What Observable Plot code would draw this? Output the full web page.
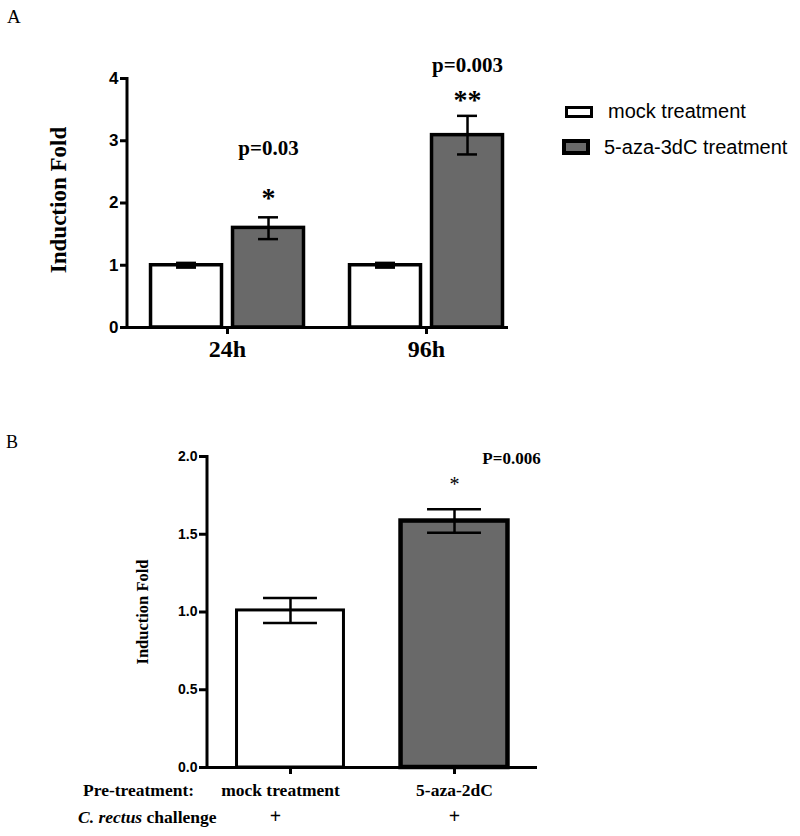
<!DOCTYPE html>
<html><head><meta charset="utf-8">
<script src="https://cdn.jsdelivr.net/npm/d3@7"></script>
<script src="https://cdn.jsdelivr.net/npm/@observablehq/plot@0.6"></script>
<style>
body{margin:0;background:#fff;}
#root{position:relative;width:800px;height:836px;overflow:hidden;font-family:"Liberation Serif","Times New Roman",serif;color:#000;}
.abs{position:absolute;white-space:nowrap;}
#root svg{position:absolute;left:0;}
</style></head><body><div id="root"></div>
<script>
// ---------- Panel A data ----------
const aTimes = ["24h", "96h"];
const aTreatments = ["mock treatment", "5-aza-3dC treatment"];
const aMockMean = [1.00, 1.00];
const aMockLo = [0.97, 0.97];
const aMockHi = [1.03, 1.03];
const aAzaMean = [1.60, 3.09];
const aAzaLo = [1.42, 2.78];
const aAzaHi = [1.77, 3.40];
const aPvalues = ["p=0.03", "p=0.003"];
const aPY = [2.88, 4.22];
const aStars = ["*", "**"];
const aStarY = [2.08, 3.66];
const aYTicks = [0, 1, 2, 3, 4];
const aYLabel = "Induction Fold";

// ---------- Panel B data ----------
const bCats = ["mock treatment", "5-aza-2dC"];
const bMean = [1.01, 1.585];
const bLo = [0.93, 1.51];
const bHi = [1.09, 1.66];
const bAnnotCat = ["5-aza-2dC"];
const bAnnotP = ["P=0.006"];
const bAnnotPY = [1.99];
const bAnnotStar = ["*"];
const bAnnotStarY = [1.82];
const bYTicks = [0, 0.5, 1.0, 1.5, 2.0];
const bRow2 = ["+", "+"];
const bYLabel = "Induction Fold";
const bRowHeads = ["Pre-treatment:", "challenge"];

const serif = "'Liberation Serif','Times New Roman',serif";
const sans = "'Liberation Sans',Arial,sans-serif";
const GRAY = "#696969";

const root = document.getElementById("root");

// ---------- Panel A ----------
const aMock = aTimes.map((t, i) => ({time: t, mean: aMockMean[i], lo: aMockLo[i], hi: aMockHi[i]}));
const aAza = aTimes.map((t, i) => ({time: t, mean: aAzaMean[i], lo: aAzaLo[i], hi: aAzaHi[i],
  p: aPvalues[i], py: aPY[i], star: aStars[i], sy: aStarY[i]}));

const A = {ml: 127, mt: 78};
const chartA = Plot.plot({
  width: 800, height: 380,
  marginLeft: A.ml, marginRight: 292, marginTop: A.mt, marginBottom: 53,
  style: {background: "transparent", overflow: "visible"},
  x: {domain: aTimes, paddingInner: 0.176, paddingOuter: 0.0453, align: 1, round: false},
  y: {domain: [0, 4]},
  marks: [
    Plot.barY(aMock, {x: "time", y: "mean", fill: "white", stroke: "black", strokeWidth: 3.5, insetLeft: 5.5, insetRight: 87.5}),
    Plot.barY(aAza, {x: "time", y: "mean", fill: GRAY, stroke: "black", strokeWidth: 3.5, insetLeft: 87.5, insetRight: 5.5}),
    Plot.ruleX(aMock, {x: "time", y1: "lo", y2: "hi", dx: -41, strokeWidth: 3}),
    Plot.tickY(aMock, {x: "time", y: "lo", insetLeft: 31, insetRight: 113, strokeWidth: 3.5}),
    Plot.tickY(aMock, {x: "time", y: "hi", insetLeft: 31, insetRight: 113, strokeWidth: 3.5}),
    Plot.ruleX(aAza, {x: "time", y1: "lo", y2: "hi", dx: 41, strokeWidth: 2.5}),
    Plot.tickY(aAza, {x: "time", y: "lo", insetLeft: 113, insetRight: 31, strokeWidth: 2.5}),
    Plot.tickY(aAza, {x: "time", y: "hi", insetLeft: 113, insetRight: 31, strokeWidth: 2.5}),
    Plot.ruleY([0], {strokeWidth: 3}),
    Plot.axisY({ticks: aYTicks, tickFormat: d3.format("d"), tickSize: 7, tickPadding: 2, strokeWidth: 3, fontSize: 17, fontWeight: "bold", fontFamily: sans, label: null}),
    Plot.axisX({tickSize: 7, tickPadding: 5, strokeWidth: 3, fontSize: 24, fontWeight: "bold", fontFamily: serif, label: null}),
    Plot.text(aAza, {x: "time", y: "sy", text: "star", dx: 41, fontSize: 28, fontWeight: "bold", fontFamily: serif}),
    Plot.text(aAza, {x: "time", y: "py", text: "p", dx: 41, fontSize: 21, fontWeight: "bold", fontFamily: serif}),
    Plot.text([aYLabel], {frameAnchor: "left", textAnchor: "middle", lineAnchor: "middle", text: d => d, rotate: -90, dx: -69, dy: -3, fontSize: 23, fontWeight: "bold", fontFamily: serif})
  ]
});
chartA.style.top = "0px";
{
  const y = chartA.scale("y");
  d3.select(chartA).append("line")
    .attr("x1", A.ml).attr("x2", A.ml)
    .attr("y1", y.apply(aYTicks[aYTicks.length - 1]) - 1).attr("y2", y.apply(0) + 1.5)
    .attr("stroke", "black").attr("stroke-width", 3);
}
root.appendChild(chartA);

// Legend (panel A)
const legendPos = [{x: 565, y: 106, w: 28, h: 12, bw: 3, tx: 608, ty: 111},
                   {x: 562, y: 139, w: 28, h: 16, bw: 4, tx: 604, ty: 147}];
const legendFill = ["white", GRAY];
aTreatments.forEach((name, i) => {
  const p = legendPos[i];
  const box = document.createElement("div");
  box.className = "abs";
  Object.assign(box.style, {left: p.x + "px", top: p.y + "px", width: p.w + "px", height: p.h + "px",
    boxSizing: "border-box", border: p.bw + "px solid black", background: legendFill[i]});
  root.appendChild(box);
  const t = document.createElement("div");
  t.className = "abs";
  t.textContent = name;
  Object.assign(t.style, {left: p.tx + "px", top: (p.ty - 12) + "px", lineHeight: "24px",
    fontFamily: sans, fontSize: "20px"});
  root.appendChild(t);
});

// ---------- Panel B ----------
const bData = bCats.map((c, i) => ({cat: c, mean: bMean[i], lo: bLo[i], hi: bHi[i], plus: bRow2[i]}));
const bAnnot = bAnnotCat.map((c, i) => ({cat: c, p: bAnnotP[i], py: bAnnotPY[i], star: bAnnotStar[i], sy: bAnnotStarY[i]}));

const B = {top: 420, ml: 207};
const lblB = {frameAnchor: "bottom", lineAnchor: "middle", textAnchor: "middle", fontWeight: "bold", fontFamily: serif};
const chartB = Plot.plot({
  width: 800, height: 416,
  marginLeft: B.ml, marginRight: 263, marginTop: 36, marginBottom: 69,
  style: {background: "transparent", overflow: "visible"},
  x: {domain: bCats, paddingInner: 0.348, paddingOuter: 0.18, round: false},
  y: {domain: [0, 2]},
  marks: [
    Plot.barY(bData, {filter: (d, i) => i === 0, x: "cat", y: "mean", fill: "white", stroke: "black", strokeWidth: 3}),
    Plot.barY(bData, {filter: (d, i) => i === 1, x: "cat", y: "mean", fill: GRAY, stroke: "black", strokeWidth: 4.5}),
    Plot.ruleX(bData, {x: "cat", y1: "lo", y2: "hi", strokeWidth: 2.5}),
    Plot.tickY(bData, {x: "cat", y: "lo", insetLeft: 26.5, insetRight: 26.5, strokeWidth: 2.5}),
    Plot.tickY(bData, {x: "cat", y: "hi", insetLeft: 26.5, insetRight: 26.5, strokeWidth: 2.5}),
    Plot.ruleY([0], {strokeWidth: 3}),
    Plot.axisY({ticks: bYTicks, tickFormat: d3.format(".1f"), tickSize: 8, tickPadding: 2, strokeWidth: 3, fontSize: 14, fontWeight: "bold", fontFamily: sans, label: null}),
    Plot.axisX({tickSize: 7, strokeWidth: 3, tickFormat: () => "", label: null}),
    Plot.text(bData, {...lblB, filter: (d, i) => i === 0, x: "cat", text: "cat", dy: 23, dx: -10, fontSize: 17.5}),
    Plot.text(bData, {...lblB, filter: (d, i) => i === 1, x: "cat", text: "cat", dy: 23, fontSize: 17.5}),
    Plot.text(bData, {...lblB, filter: (d, i) => i === 0, x: "cat", text: "plus", dy: 49, dx: -15, fontSize: 20}),
    Plot.text(bData, {...lblB, filter: (d, i) => i === 1, x: "cat", text: "plus", dy: 49, fontSize: 20}),
    Plot.text(bAnnot, {x: "cat", y: "py", text: "p", dx: 57, fontSize: 17, fontWeight: "bold", fontFamily: serif}),
    Plot.text(bAnnot, {x: "cat", y: "sy", text: "star", fontSize: 20, fontFamily: serif}),
    Plot.text([bYLabel], {frameAnchor: "left", textAnchor: "middle", lineAnchor: "middle", text: d => d, rotate: -90, dx: -65, fontSize: 16.5, fontWeight: "bold", fontFamily: serif})
  ]
});
chartB.style.top = B.top + "px";
{
  const y = chartB.scale("y");
  d3.select(chartB).append("line")
    .attr("x1", B.ml).attr("x2", B.ml)
    .attr("y1", y.apply(bYTicks[bYTicks.length - 1]) - 1).attr("y2", y.apply(0) + 1.5)
    .attr("stroke", "black").attr("stroke-width", 3);
}
root.appendChild(chartB);

// Row headers (panel B)
function addText(html, x, yc, size, extra) {
  const d = document.createElement("div");
  d.className = "abs";
  d.innerHTML = html;
  Object.assign(d.style, {left: x + "px", top: (yc - 10) + "px", lineHeight: "20px",
    fontFamily: serif, fontSize: size + "px"}, extra || {});
  root.appendChild(d);
}
addText(bRowHeads[0], 83, 790, 17.5, {fontWeight: "bold"});
addText("<i>C. rectus</i> " + bRowHeads[1], 78, 817, 17.5, {fontWeight: "bold"});

// Panel letters
addText("A", 7, 17, 19);
addText("B", 6, 442, 18);
</script>
</body></html>
